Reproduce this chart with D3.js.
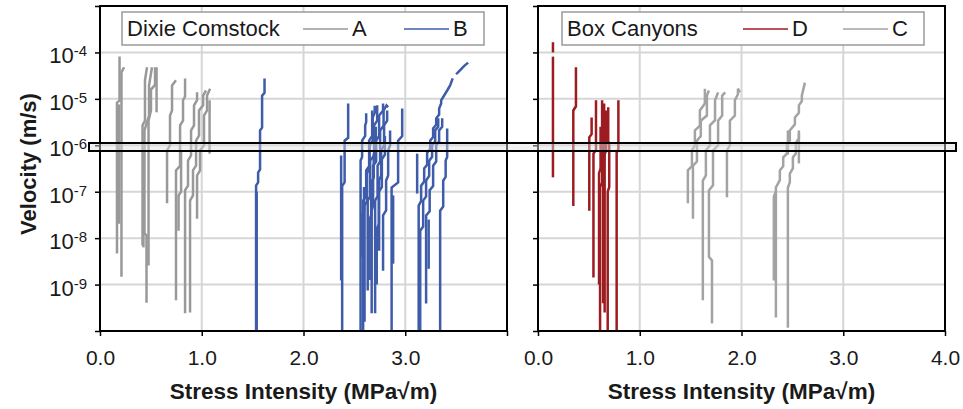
<!DOCTYPE html>
<html>
<head>
<meta charset="utf-8">
<script src="https://cdn.jsdelivr.net/npm/d3@7"></script>
<style>
  body { margin: 0; background: #fff; }
  svg text { font-family: "Liberation Sans", Arial, Helvetica, sans-serif; fill: #1a1a1a; }
</style>
</head>
<body>
<div id="chart"></div>
<script>
// ---- data: each trace is a list of [stress intensity K, log10 velocity] ----
const kTicks = [0, 1, 2, 3, 4];
const velocityExps = [-10, -9, -8, -7, -6, -5, -4, -3];
const labelExps = [-9, -8, -7, -6, -5, -4];

const seriesA = [
  [[0.167,-8.33],[0.167,-5.08],[0.192,-5.04],[0.192,-4.09]],
  [[0.211,-8.83],[0.211,-4.43],[0.236,-4.32]],
  [[0.187,-7.69],[0.187,-5.12]],
  [[0.418,-8.16],[0.418,-5.57],[0.442,-5.47],[0.442,-4.60],[0.462,-4.32]],
  [[0.457,-9.39],[0.457,-7.94],[0.437,-7.90],[0.437,-5.68],[0.482,-5.36],[0.482,-4.71],[0.511,-4.32]],
  [[0.477,-8.59],[0.477,-5.47],[0.501,-5.25],[0.501,-4.80],[0.541,-4.70],[0.541,-4.32]],
  [[0.427,-8.20],[0.427,-6.20]],
  [[0.556,-5.29],[0.556,-4.32]],
  [[0.659,-7.25],[0.659,-6.11],[0.688,-6.00],[0.688,-5.36],[0.708,-5.25],[0.708,-4.71],[0.747,-4.60]],
  [[0.747,-9.34],[0.747,-6.54],[0.787,-6.44],[0.787,-5.57],[0.816,-5.47],[0.816,-5.03],[0.836,-4.95],[0.836,-4.56]],
  [[0.772,-7.84],[0.772,-7.08],[0.797,-7.00],[0.797,-6.11]],
  [[0.836,-9.62],[0.836,-6.97],[0.865,-6.87],[0.865,-6.33],[0.895,-6.22],[0.895,-5.68],[0.924,-5.57],[0.924,-5.14],[0.954,-5.03],[0.954,-4.86]],
  [[0.885,-9.60],[0.885,-7.19],[0.914,-7.08],[0.914,-6.54],[0.944,-6.44],[0.944,-5.90],[0.973,-5.79],[0.973,-5.25],[1.013,-5.14],[1.013,-4.93],[1.042,-4.82]],
  [[0.954,-7.58],[0.954,-6.65],[0.983,-6.54],[0.983,-6.11],[1.022,-6.00],[1.022,-5.36],[1.052,-5.25],[1.052,-4.93],[1.082,-4.78]],
  [[1.077,-6.18],[1.077,-5.03]]
];

const seriesB = [
  [[1.534,-10.2],[1.534,-6.87],[1.554,-6.80],[1.554,-6.59],[1.573,-6.52],[1.573,-5.68],[1.593,-5.62],[1.593,-4.93],[1.617,-4.87],[1.617,-4.56]],
  [[1.540,-10.2],[1.540,-7.00]],
  [[2.380,-10.2],[2.380,-6.87],[2.404,-6.80],[2.404,-5.90],[2.439,-5.84],[2.439,-5.10]],
  [[2.370,-8.91],[2.370,-6.22]],
  [[2.561,-10.2],[2.561,-6.33],[2.576,-6.25],[2.576,-5.90],[2.606,-5.80],[2.606,-5.57],[2.616,-5.50],[2.616,-5.31]],
  [[2.586,-10.2],[2.586,-7.19],[2.616,-7.10],[2.616,-6.54],[2.645,-6.45],[2.645,-5.90],[2.675,-5.80],[2.675,-5.25]],
  [[2.575,-8.40],[2.575,-7.50],[2.595,-7.40],[2.595,-6.90]],
  [[2.600,-9.80],[2.600,-7.30],[2.625,-7.20],[2.625,-6.60],[2.650,-6.50],[2.650,-6.00],[2.680,-5.90],[2.680,-5.40],[2.700,-5.30],[2.700,-5.15]],
  [[2.650,-8.90],[2.650,-7.60],[2.665,-7.50],[2.665,-6.80],[2.690,-6.70],[2.690,-6.20],[2.710,-6.10],[2.710,-5.60]],
  [[2.670,-9.62],[2.670,-7.41],[2.684,-7.30],[2.684,-6.44],[2.714,-6.35],[2.714,-5.90],[2.743,-5.80],[2.743,-5.36],[2.782,-5.25],[2.782,-5.10]],
  [[2.704,-9.62],[2.704,-7.19],[2.728,-7.10],[2.728,-6.44],[2.753,-6.35],[2.753,-5.68],[2.787,-5.58],[2.787,-5.25],[2.816,-5.14],[2.832,-5.18]],
  [[2.720,-9.00],[2.720,-7.80],[2.740,-7.70],[2.740,-7.00],[2.770,-6.90],[2.770,-6.30],[2.800,-6.20],[2.800,-5.80]],
  [[2.782,-8.70],[2.782,-7.51],[2.812,-7.40],[2.812,-6.76],[2.832,-6.65],[2.832,-6.11],[2.851,-6.00],[2.851,-5.68]],
  [[2.866,-10.2],[2.866,-6.91],[2.930,-6.80],[2.930,-5.90],[2.970,-5.80],[2.970,-5.21]],
  [[2.881,-8.55],[2.881,-7.08]],
  [[2.631,-9.13],[2.631,-7.19],[2.655,-7.10],[2.655,-6.33],[2.694,-6.22],[2.694,-5.57],[2.724,-5.47],[2.724,-5.14]],
  [[2.743,-8.27],[2.743,-6.76],[2.763,-6.65],[2.763,-6.11],[2.792,-6.00],[2.792,-5.57],[2.822,-5.47],[2.822,-5.25]],
  [[3.117,-7.04],[3.117,-6.18]],
  [[3.132,-10.2],[3.132,-7.30],[3.156,-7.20],[3.156,-6.87],[3.186,-6.78],[3.186,-6.50],[3.215,-6.42],[3.215,-6.16],[3.245,-6.08],[3.245,-5.90],[3.274,-5.82],[3.274,-5.64],[3.304,-5.56],[3.304,-5.42],[3.333,-5.34],[3.333,-5.21],[3.353,-5.10],[3.353,-5.03],[3.373,-4.96],[3.412,-4.82],[3.441,-4.71],[3.466,-4.56]],
  [[3.500,-4.47],[3.540,-4.38],[3.580,-4.29],[3.618,-4.22]],
  [[3.147,-10.2],[3.147,-7.84],[3.176,-7.75],[3.176,-7.19],[3.205,-7.10],[3.205,-6.76],[3.235,-6.66],[3.235,-6.33],[3.264,-6.25],[3.264,-6.00],[3.294,-5.92],[3.294,-5.68],[3.324,-5.60],[3.324,-5.42]],
  [[3.205,-9.41],[3.205,-7.51],[3.240,-7.42],[3.240,-6.97],[3.274,-6.88],[3.274,-6.44],[3.304,-6.35],[3.304,-6.00],[3.333,-5.92],[3.333,-5.68],[3.363,-5.60],[3.363,-5.42]],
  [[3.230,-8.66],[3.230,-7.60]],
  [[3.343,-10.2],[3.343,-7.41],[3.373,-7.32],[3.373,-6.76],[3.397,-6.68],[3.397,-6.33],[3.412,-6.25],[3.412,-5.64]]
];

const seriesD = [
  [[0.147,-4.00],[0.147,-3.78]],
  [[0.147,-6.69],[0.147,-4.09]],
  [[0.347,-7.31],[0.347,-5.25],[0.373,-5.16],[0.373,-4.32]],
  [[0.504,-7.41],[0.504,-5.83],[0.527,-5.76],[0.527,-5.40]],
  [[0.545,-8.85],[0.545,-6.18],[0.570,-6.10],[0.570,-5.03]],
  [[0.610,-10.2],[0.610,-6.90],[0.630,-6.80],[0.630,-5.03]],
  [[0.600,-9.00],[0.600,-6.60],[0.615,-6.50],[0.615,-5.60]],
  [[0.640,-9.40],[0.640,-6.40],[0.650,-6.30],[0.650,-5.10]],
  [[0.685,-10.2],[0.685,-7.00],[0.700,-6.90],[0.700,-6.00],[0.690,-5.90],[0.690,-5.18]],
  [[0.773,-10.2],[0.773,-6.16],[0.790,-6.08],[0.790,-5.03]],
  [[0.655,-9.60],[0.655,-6.20],[0.670,-6.10],[0.670,-5.25]]
];

const seriesC = [
  [[1.473,-7.25],[1.473,-6.54],[1.513,-6.45],[1.513,-6.11],[1.542,-6.00],[1.542,-5.68],[1.591,-5.58],[1.591,-5.25],[1.640,-5.10],[1.640,-4.78]],
  [[1.523,-7.58],[1.523,-6.44],[1.562,-6.35],[1.562,-5.90],[1.600,-5.80],[1.600,-5.47],[1.660,-5.36],[1.660,-4.93],[1.680,-4.82]],
  [[1.620,-9.34],[1.620,-6.76],[1.650,-6.65],[1.650,-6.11],[1.690,-6.00],[1.690,-5.57],[1.740,-5.46],[1.740,-5.03],[1.770,-4.86]],
  [[1.710,-9.84],[1.710,-8.48],[1.680,-8.40],[1.680,-6.97],[1.720,-6.86],[1.720,-6.11],[1.770,-6.00],[1.770,-5.47],[1.810,-5.36],[1.810,-4.93],[1.840,-4.86]],
  [[1.857,-7.12],[1.857,-6.11],[1.886,-6.00],[1.886,-5.47],[1.935,-5.36],[1.935,-5.03],[1.965,-4.90],[1.965,-4.78],[1.984,-4.86]],
  [[2.338,-9.71],[2.338,-6.91],[2.377,-6.75],[2.377,-6.54],[2.410,-6.45],[2.410,-6.26],[2.446,-6.18],[2.446,-5.98],[2.475,-5.90],[2.475,-5.68],[2.525,-5.55],[2.525,-5.40],[2.564,-5.30],[2.564,-5.14],[2.593,-5.05],[2.593,-4.93],[2.623,-4.65]],
  [[2.318,-8.91],[2.318,-7.10],[2.338,-7.00]],
  [[2.456,-9.93],[2.456,-6.91],[2.475,-6.80],[2.475,-6.61],[2.505,-6.50],[2.505,-6.26],[2.534,-6.18],[2.534,-5.95],[2.564,-5.85],[2.564,-5.75]],
  [[2.564,-6.39],[2.564,-5.68]],
  [[2.456,-6.20],[2.456,-5.68]]
];

const colorA = '#999999';
const colorB = '#3e5ca9';
const colorD = '#9c1c21';
const colorC = '#a3a3a3';

// ---- layout ----
const width = 963, height = 409;
const plotTop = 6, plotBottom = 331;

const svg = d3.select('#chart')
  .append('svg')
  .attr('width', width)
  .attr('height', height);

const y = d3.scaleLog()
  .domain([1e-10, 1e-3])
  .range([plotBottom, plotTop]);

const panels = [
  { id: 'left', x0: 100, x1: 507, title: 'Dixie Comstock', showYLabels: true,
    series: [{ name: 'A', data: seriesA, color: colorA }, { name: 'B', data: seriesB, color: colorB }],
    legend: { x: 122, w: 362, titleX: 127, items: [303, 404] },
    tickLabel: d => (d < 4 ? d.toFixed(1) : '') },
  { id: 'right', x0: 538, x1: 945, title: 'Box Canyons', showYLabels: false,
    series: [{ name: 'D', data: seriesD, color: colorD }, { name: 'C', data: seriesC, color: colorC }],
    legend: { x: 562, w: 362, titleX: 567, items: [743, 843] },
    tickLabel: d => d.toFixed(1) }
];

panels.forEach(p => {
  const x = d3.scaleLinear().domain([0, 4]).range([p.x0, p.x1]);
  const g = svg.append('g');

  // Gridlines
  g.append('g')
    .selectAll('line')
    .data([1, 2, 3])
    .enter()
    .append('line')
    .attr('x1', d => x(d)).attr('x2', d => x(d))
    .attr('y1', plotTop).attr('y2', plotBottom)
    .attr('stroke', '#d6d6d6').attr('stroke-width', 2);
  g.append('g')
    .selectAll('line')
    .data(labelExps)
    .enter()
    .append('line')
    .attr('x1', p.x0).attr('x2', p.x1)
    .attr('y1', d => y(Math.pow(10, d))).attr('y2', d => y(Math.pow(10, d)))
    .attr('stroke', '#d6d6d6').attr('stroke-width', 2);

  // Clip for data
  svg.append('clipPath')
    .attr('id', `clip-${p.id}`)
    .append('rect')
    .attr('x', p.x0).attr('y', plotTop)
    .attr('width', p.x1 - p.x0).attr('height', plotBottom - plotTop);

  const line = d3.line()
    .x(d => x(d[0]))
    .y(d => y(Math.pow(10, d[1])));

  p.series.forEach(s => {
    g.append('g')
      .attr('clip-path', `url(#clip-${p.id})`)
      .selectAll('path')
      .data(s.data)
      .enter()
      .append('path')
      .attr('d', line)
      .attr('fill', 'none')
      .attr('stroke', s.color)
      .attr('stroke-width', 2.5);
  });

  // Axes (ticks only)
  const xAxis = d3.axisBottom(x)
    .tickValues(kTicks)
    .tickSize(5)
    .tickPadding(14)
    .tickFormat(p.tickLabel);
  g.append('g')
    .attr('transform', `translate(0, ${plotBottom})`)
    .call(xAxis)
    .call(a => a.select('.domain').remove())
    .call(a => a.selectAll('line').attr('stroke', '#000').attr('stroke-width', 1.5))
    .call(a => a.selectAll('text').style('font-size', '21px').attr('fill', '#1a1a1a'));

  const yAxis = d3.axisLeft(y)
    .tickValues(velocityExps.map(e => Math.pow(10, e)))
    .tickSize(5)
    .tickFormat('');
  g.append('g')
    .attr('transform', `translate(${p.x0}, 0)`)
    .call(yAxis)
    .call(a => a.select('.domain').remove())
    .call(a => a.selectAll('line').attr('stroke', '#000').attr('stroke-width', 1.5));

  if (p.showYLabels) {
    const labels = g.append('g')
      .selectAll('text')
      .data(labelExps)
      .enter()
      .append('text')
      .attr('x', p.x0 - 13)
      .attr('y', d => y(Math.pow(10, d)) + 11)
      .attr('text-anchor', 'end');
    labels.append('tspan').style('font-size', '22px').text('10');
    labels.append('tspan').style('font-size', '15px').attr('dy', -7).text(d => d);
  }

  // Frame
  g.append('rect')
    .attr('x', p.x0).attr('y', plotTop)
    .attr('width', p.x1 - p.x0).attr('height', plotBottom - plotTop)
    .attr('fill', 'none')
    .attr('stroke', '#000')
    .attr('stroke-width', 2);

  // Legend
  const lg = g.append('g');
  lg.append('rect')
    .attr('x', p.legend.x).attr('y', 12)
    .attr('width', p.legend.w).attr('height', 33)
    .attr('fill', '#fff')
    .attr('stroke', '#9a9a9a')
    .attr('stroke-width', 1.5);
  lg.append('text')
    .attr('x', p.legend.titleX).attr('y', 36)
    .style('font-size', '22px')
    .text(p.title);
  p.series.forEach((s, i) => {
    const lx = p.legend.items[i];
    lg.append('line')
      .attr('x1', lx).attr('x2', lx + 45)
      .attr('y1', 29).attr('y2', 29)
      .attr('stroke', s.color).attr('stroke-width', 1.5);
    lg.append('text')
      .attr('x', lx + 49).attr('y', 36)
      .style('font-size', '22px')
      .text(s.name);
  });

  // X title
  g.append('text')
    .attr('x', (p.x0 + p.x1) / 2)
    .attr('y', 399)
    .attr('text-anchor', 'middle')
    .style('font-size', '22.5px')
    .style('font-weight', 'bold')
    .text('Stress Intensity (MPa√m)');
});

// Y title
svg.append('text')
  .attr('transform', 'translate(36, 164) rotate(-90)')
  .attr('text-anchor', 'middle')
  .style('font-size', '22px')
  .style('font-weight', 'bold')
  .text('Velocity (m/s)');

// Highlight band around 10^-6
svg.append('rect')
  .attr('x', 89).attr('y', 143)
  .attr('width', 956 - 89).attr('height', 8)
  .attr('fill', 'rgba(225,225,225,0.45)')
  .attr('stroke', '#000')
  .attr('stroke-width', 2);
</script>
</body>
</html>
